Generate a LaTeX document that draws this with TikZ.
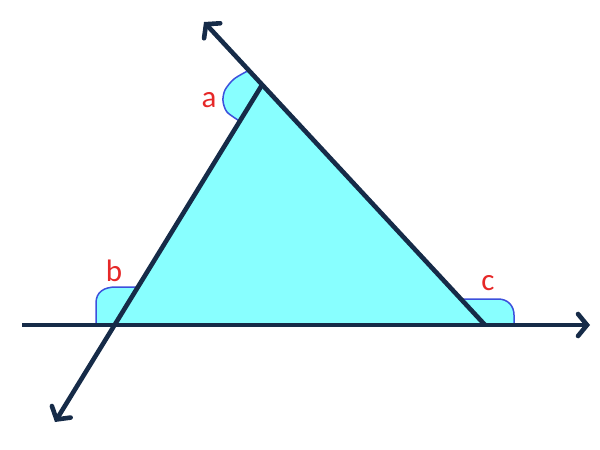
\documentclass[tikz,border=0pt]{standalone}
\usepackage{fontspec}
\setsansfont{Carlito}
\usetikzlibrary{arrows.meta}
\definecolor{navy}{RGB}{22,43,72}
\definecolor{tri}{RGB}{136,255,255}
\definecolor{angline}{RGB}{60,80,220}
\definecolor{lab}{RGB}{230,40,40}
\begin{document}
\begin{tikzpicture}[x=1pt,y=-1pt,
  line/.style={draw=navy,line width=4.6pt},
  arr/.style={-{Straight Barb[length=9pt,width=22pt,line cap=round]}},
  angedge/.style={draw=angline,line width=1.5pt},
  lbl/.style={text=lab,font=\sffamily\fontsize{31}{31}\selectfont,inner sep=0pt}]
\useasboundingbox (0,0) rectangle (600,450);
\coordinate (A) at (262,85);
\coordinate (B) at (115,325);
\coordinate (C) at (485,325);
\coordinate (L) at (22,325);
\coordinate (R) at (590,325);
\coordinate (U) at (204,22);
\coordinate (D) at (55,422);
% triangle fill
\fill[tri] (A) -- (B) -- (C) -- cycle;
% angle a
\fill[tri] (A) -- plot[smooth] coordinates {(248.5,70.5) (234,79) (225,90) (223,101) (227,112) (239.5,121)} -- cycle;
\draw[angedge] plot[smooth] coordinates {(248.5,70.5) (234,79) (225,90) (223,101) (227,112) (239.5,121)};
% angle b
\fill[tri] (B) -- (96,325) -- (96,303) .. controls (96,292) and (104,287) .. (116,287) -- (138,287) -- cycle;
\draw[angedge] (96,325) -- (96,303) .. controls (96,292) and (104,287) .. (116,287) -- (138,287);
% angle c
\fill[tri] (C) -- (461,299) -- (498,299) .. controls (508,299) and (514,306) .. (514,315) -- (514,325) -- cycle;
\draw[angedge] (461,299) -- (498,299) .. controls (508,299) and (514,306) .. (514,315) -- (514,325);
% lines
\draw[line,arr] (L) -- (R);
\draw[line,arr] (C) -- (U);
\draw[line,arr] (A) -- (D);
% labels
\node[lbl] (la) at (209,100) {a};
\node[lbl] (lb) at (114,271) {b};
\node[lbl] (lc) at (488,283) {c};
\end{tikzpicture}
\end{document}
